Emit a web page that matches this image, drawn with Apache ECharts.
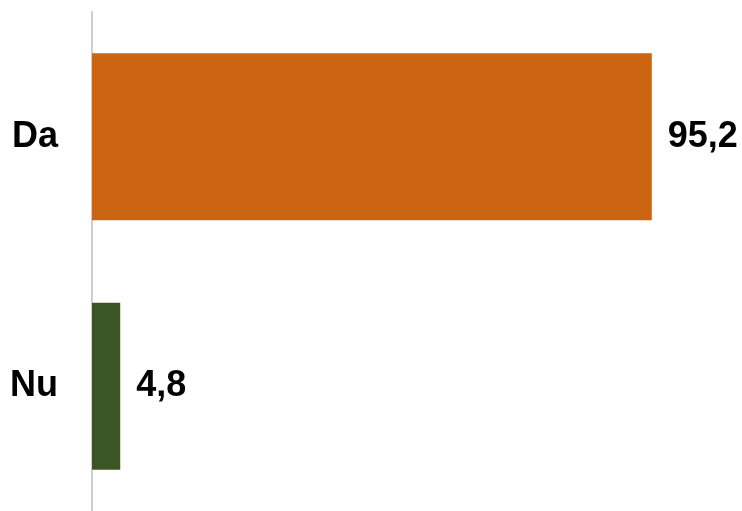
<!DOCTYPE html>
<html>
<head>
<meta charset="utf-8">
<script src="https://cdn.jsdelivr.net/npm/echarts@6/dist/echarts.min.js"></script>
<style>
  html, body { margin: 0; padding: 0; background: #fff; }
  #chart { width: 742px; height: 511px; }
</style>
</head>
<body>
<div id="chart"></div>
<script>
const categories = ['Da', 'Nu'];
const values = [95.2, 4.8];
const barColors = ['#cc6511', '#3b5624'];

const chart = echarts.init(document.getElementById('chart'));

const options = {
  backgroundColor: '#ffffff',
  animation: false,
  grid: { left: 92, right: 62, top: 12, bottom: -6 },
  xAxis: {
    type: 'value',
    min: 0,
    max: 100,
    show: false
  },
  yAxis: {
    type: 'category',
    data: categories,
    inverse: true,
    axisLine: { show: true, lineStyle: { color: '#cfcfcf', width: 2 } },
    axisTick: { show: false },
    axisLabel: {
      margin: 34,
      color: '#000',
      fontFamily: 'Liberation Sans, Arial, sans-serif',
      fontWeight: 'bold',
      fontSize: 36
    }
  },
  series: [{
    type: 'bar',
    barWidth: '67%',
    data: values.map((v, i) => ({ value: v, itemStyle: { color: barColors[i] } })),
    label: {
      show: true,
      position: 'right',
      distance: 16,
      color: '#000',
      fontFamily: 'Liberation Sans, Arial, sans-serif',
      fontWeight: 'bold',
      fontSize: 36,
      formatter: (p) => String(p.value).replace('.', ',')
    }
  }]
};

chart.setOption(options);
</script>
</body>
</html>
